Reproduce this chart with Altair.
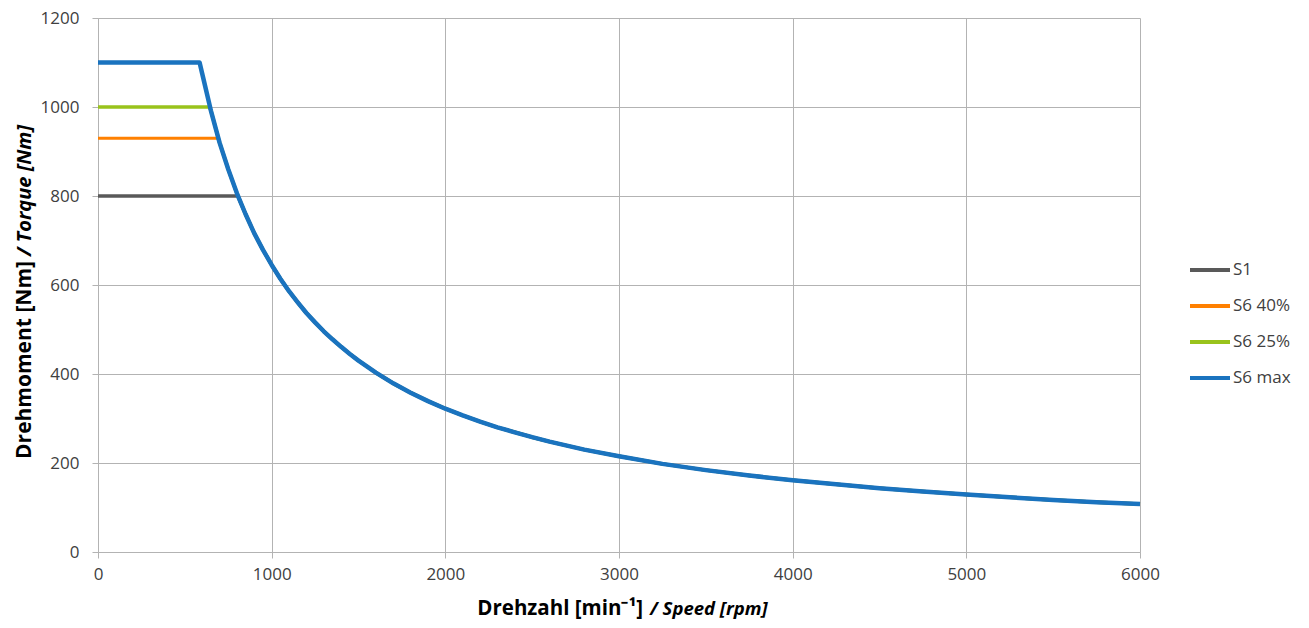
import altair as alt
import pandas as pd

# ---- data ----
series_names = ["S1", "S6 40%", "S6 25%", "S6 max"]
series_colors = ["#595959", "#ff8000", "#99c31c", "#1a73bf"]

curve_speed = [650, 700, 750, 800, 850, 900, 950, 1000, 1050, 1100, 1150, 1200, 1250,
               1300, 1350, 1400, 1450, 1500, 1600, 1700, 1800, 1900, 2000, 2100, 2200,
               2300, 2400, 2500, 2600, 2800, 3000, 3250, 3500, 3750, 4000, 4250, 4500,
               4750, 5000, 5250, 5500, 5750, 6000]
curve_torque = [992, 920, 860, 806, 759, 716, 679, 645, 614, 586, 561, 537, 516,
                496, 478, 461, 445, 430, 403, 379, 358, 339, 322, 307, 293,
                280, 269, 258, 248, 230, 215, 198, 184, 172, 161, 152, 143,
                136, 129, 123, 117, 112, 108]

s1_speed = [0, 805]
s1_torque = [800, 800]
s640_speed = [0, 690]
s640_torque = [930, 930]
s625_speed = [0, 640]
s625_torque = [1000, 1000]
smax_speed = [0, 585, 600]
smax_torque = [1100, 1100, 1075]

x_ticks = [0, 1000, 2000, 3000, 4000, 5000, 6000]
y_ticks = [0, 200, 400, 600, 800, 1000, 1200]

x_title_main = ["Drehzahl [min⁻¹]"]
x_title_sub = ["/ Speed [rpm]"]
y_title_main = ["Drehmoment [Nm]"]
y_title_sub = ["/ Torque [Nm]"]

rows = []
for name, sp, tq in [("S1", s1_speed, s1_torque),
                     ("S6 40%", s640_speed, s640_torque),
                     ("S6 25%", s625_speed, s625_torque),
                     ("S6 max", smax_speed, smax_torque)]:
    pts = list(zip(sp, tq)) + [(s, t) for s, t in zip(curve_speed, curve_torque) if s > sp[-1]]
    for i, (s, t) in enumerate(pts):
        rows.append({"series": name, "speed": s, "torque": t, "i": i})
df = pd.DataFrame(rows)

W, H = 1042, 534
FONT = "Open Sans"
GRID = "#b3b3b3"
LABEL = "#404040"

color = alt.Color("series:N",
                  scale=alt.Scale(domain=series_names, range=series_colors),
                  legend=alt.Legend(title=None, orient="none", legendX=1090, legendY=230,
                                    symbolType="stroke", symbolSize=1600, symbolStrokeWidth=4,
                                    labelFont=FONT, labelFontSize=17, labelColor=LABEL,
                                    labelOffset=1, rowPadding=6, padding=0))

x = alt.X("speed:Q", scale=alt.Scale(domain=[0, 6000], nice=False),
          axis=alt.Axis(title=None, values=x_ticks, format="d", labelPadding=8,
                        labelFlush=False))
y = alt.Y("torque:Q", scale=alt.Scale(domain=[0, 1200], nice=False),
          axis=alt.Axis(title=None, values=y_ticks, format="d", labelPadding=13,
                        labelFlush=False))

widths = {"S1": 3.5, "S6 40%": 3, "S6 25%": 3.5, "S6 max": 4.5}
layers = []
for name in series_names:
    layers.append(
        alt.Chart(df).transform_filter(alt.datum.series == name)
        .mark_line(strokeWidth=widths[name], strokeJoin="round")
        .encode(x=x, y=y, color=color, order="i:Q")
    )

def txt(values, **kw):
    return alt.Chart(pd.DataFrame({"t": values})).mark_text(font=FONT, fontWeight="bold",
                                                              color="#000000", **kw).encode(text="t:N")

xt1 = txt(x_title_main, fontSize=20.5, align="right", baseline="alphabetic").encode(
    x=alt.value(545), y=alt.value(597))
xt2 = txt(x_title_sub, fontSize=18.5, fontStyle="italic", align="left", baseline="alphabetic").encode(
    x=alt.value(552), y=alt.value(597))
yt1 = txt(y_title_main, fontSize=21, angle=270, align="right", baseline="alphabetic").encode(
    x=alt.value(-67), y=alt.value(243))
yt2 = txt(y_title_sub, fontSize=20, fontStyle="italic", angle=270, align="left", baseline="alphabetic").encode(
    x=alt.value(-67), y=alt.value(238))

chart = alt.layer(*layers, xt1, xt2, yt1, yt2).properties(
    width=W, height=H,
    background="white",
    autosize=alt.AutoSizeParams(type="none"),
    padding={"left": 98, "top": 18, "right": 169, "bottom": 76},
).configure_view(stroke=None).configure_axis(
    grid=True, gridColor=GRID, gridWidth=1, domainColor=GRID, tickColor=GRID,
    tickSize=6, labelFont=FONT, labelFontSize=17, labelColor=LABEL,
)

chart.save("out.html", embed_options={"renderer": "svg", "actions": False})
